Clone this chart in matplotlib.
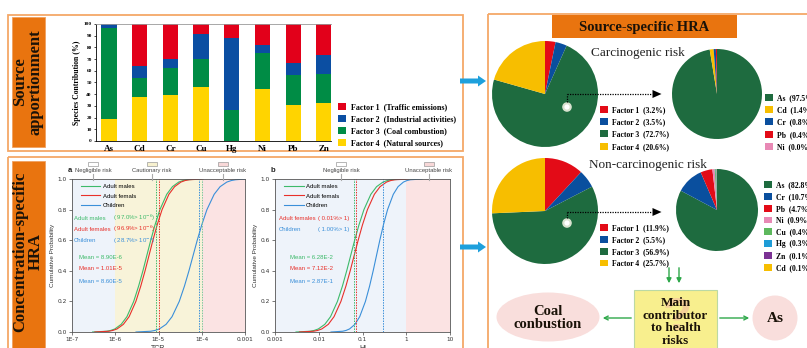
import numpy as np
import matplotlib
matplotlib.use('Agg')
import matplotlib.pyplot as plt
from matplotlib.patches import Rectangle, Ellipse, Circle, FancyArrow

# ---- source apportionment (PMF factor contributions, %) ----
elements = ['As', 'Cd', 'Cr', 'Cu', 'Hg', 'Ni', 'Pb', 'Zn']
f1_traffic = [0, 36, 30, 8.5, 12, 18, 33, 26.5]
f2_industrial = [3, 10, 7.5, 21, 61.5, 7, 11, 16.5]
f3_coal = [78, 16.5, 23.5, 24, 26.5, 30.5, 25.5, 24.5]
f4_natural = [19, 37.5, 39, 46.5, 0, 44.5, 30.5, 32.5]
factor_labels = ['Factor 1  (Traffic emissions)', 'Factor 2  (Industrial activities)',
                 'Factor 3  (Coal combustion)', 'Factor 4  (Natural sources)']

# ---- Monte Carlo cumulative distributions ----
cdf_prob = [0, 0.005, 0.01, 0.02, 0.05, 0.1, 0.2, 0.3, 0.4, 0.5,
            0.6, 0.7, 0.8, 0.9, 0.95, 0.98, 0.99, 0.995, 1.0]
tcr_males = [3.0e-7, 6.35e-7, 7.8e-7, 9.8e-7, 1.37e-6, 1.86e-6, 2.67e-6, 3.47e-6, 4.36e-6, 5.37e-6,
             6.62e-6, 8.30e-6, 1.08e-5, 1.55e-5, 2.10e-5, 2.94e-5, 3.69e-5, 4.54e-5, 9.5e-5]
tcr_females = [3.37e-7, 7.12e-7, 8.75e-7, 1.10e-6, 1.54e-6, 2.09e-6, 3.00e-6, 3.89e-6, 4.89e-6, 6.03e-6,
               7.43e-6, 9.31e-6, 1.21e-5, 1.74e-5, 2.36e-5, 3.30e-5, 4.14e-5, 5.09e-5, 1.07e-4]
tcr_children = [3.02e-6, 6.62e-6, 8.24e-6, 1.047e-5, 1.496e-5, 2.056e-5, 3.02e-5, 3.98e-5, 5.06e-5, 6.31e-5,
                7.87e-5, 1.0e-4, 1.318e-4, 1.936e-4, 2.661e-4, 3.80e-4, 4.83e-4, 6.01e-4, 1.0e-3]
hi_males = [0.00302, 0.00635, 0.00782, 0.00979, 0.01374, 0.01858, 0.02673, 0.03475, 0.04355, 0.0537,
            0.0662, 0.0830, 0.1079, 0.1552, 0.2099, 0.2944, 0.3690, 0.4539, 0.955]
hi_females = [0.00363, 0.00763, 0.00940, 0.01177, 0.01652, 0.02233, 0.03213, 0.04177, 0.05235, 0.0645,
              0.0796, 0.0998, 0.1297, 0.1866, 0.2523, 0.3539, 0.4436, 0.5456, 1.148]
hi_children = [0.01905, 0.03524, 0.04188, 0.05058, 0.06714, 0.08630, 0.1167, 0.1452, 0.1754, 0.2089,
               0.2489, 0.3006, 0.3741, 0.5058, 0.6501, 0.8630, 1.042, 1.239, 2.291]
tcr_means = [8.90e-6, 1.01e-5, 8.60e-5]
hi_means = [6.28e-2, 7.12e-2, 2.87e-1]

# ---- source-specific HRA ----
car_factor = [3.2, 3.5, 72.7, 20.6]
noncar_factor = [11.9, 5.5, 56.9, 25.7]
car_metals = ['As', 'Cd', 'Cr', 'Pb', 'Ni']
car_metal_share = [97.5, 1.4, 0.8, 0.4, 0.0]
noncar_metals = ['As', 'Cr', 'Pb', 'Ni', 'Cu', 'Hg', 'Zn', 'Cd']
noncar_metal_share = [82.8, 10.7, 4.7, 0.9, 0.4, 0.3, 0.1, 0.1]

W, H = 807, 348
SERIF = 'Liberation Serif'
SANS = 'Liberation Sans'
ORANGE = '#E9740F'
BORDER = '#F5A868'
RED, BLUE, GREEN, YELLOW = '#E2001A', '#0B4EA2', '#008C45', '#FFD400'
PRED, PBLUE, PGREEN, PYELLOW = '#E30B17', '#0A4F9E', '#1E6B3F', '#F7BE00'
metal_colors = {'As': PGREEN, 'Cd': PYELLOW, 'Cr': PBLUE, 'Pb': PRED, 'Ni': '#E889B5',
                'Cu': '#5DB85D', 'Hg': '#1E9CD7', 'Zn': '#7B3294'}
C_M, C_F, C_C = '#3DBA6A', '#E8302A', '#3A8FD9'


def px_box(x0, y0, x1, y1):
    return [x0 / W, 1 - y1 / H, (x1 - x0) / W, (y1 - y0) / H]


fig = plt.figure(figsize=(W / 100, H / 100), dpi=100)
bg = fig.add_axes([0, 0, 1, 1])
bg.set_xlim(0, W)
bg.set_ylim(H, 0)
bg.axis('off')
fg = fig.add_axes([0, 0, 1, 1])
fg.set_xlim(0, W)
fg.set_ylim(H, 0)
fg.axis('off')
fg.set_zorder(10)
fg.patch.set_alpha(0)

# panel frames and section labels
bg.add_patch(Rectangle((8, 15), 455, 136, fc='none', ec=BORDER, lw=1.3))
bg.add_patch(Rectangle((8, 157), 455, 200, fc='none', ec=BORDER, lw=1.3))
bg.add_patch(Rectangle((488, 14), 330, 345, fc='none', ec=BORDER, lw=1.3))
bg.add_patch(Rectangle((12, 17), 33, 130, fc=ORANGE, ec='#F0A060', lw=0.6))
bg.add_patch(Rectangle((12, 161), 33, 195, fc=ORANGE, ec='#F0A060', lw=0.6))
bg.text(28, 82, 'Source\napportionment', rotation=90, ha='center', va='center',
        family=SERIF, weight='bold', fontsize=12, linespacing=1.0, color='#1a1208')
bg.text(28, 252, 'Concentration-specific\nHRA', rotation=90, ha='center', va='center',
        family=SERIF, weight='bold', fontsize=12, linespacing=1.0, color='#1a1208')

# ---------------- stacked bar chart ----------------
ax = fig.add_axes(px_box(96, 24, 331, 141))
x = np.arange(len(elements))
bottom = np.zeros(len(elements))
bars = []
for vals, col in [(f4_natural, YELLOW), (f3_coal, GREEN), (f2_industrial, BLUE), (f1_traffic, RED)]:
    bars.append(ax.bar(x, vals, 0.5, bottom=bottom, color=col, lw=0))
    bottom += np.array(vals)
ax.set_xlim(-0.42, 7.23)
ax.set_ylim(0, 100)
ax.set_xticks(x)
ax.set_xticklabels(elements, family=SERIF, weight='bold', fontsize=6.5)
ax.set_yticks(range(0, 101, 10))
ax.set_yticklabels([str(v) for v in range(0, 101, 10)], family=SERIF, weight='bold', fontsize=3.8)
ax.tick_params(axis='x', length=0, pad=3)
ax.tick_params(axis='y', length=1.5, width=0.5, pad=1.5)
ax.set_ylabel('Species Contribution (%)', family=SERIF, weight='bold', fontsize=5.6, labelpad=2)
ax.spines['right'].set_visible(False)
ax.spines['top'].set_color('#999999')
for s in ['left', 'bottom', 'top']:
    ax.spines[s].set_linewidth(0.6)
ax.legend(bars[::-1], factor_labels, loc='upper left', bbox_to_anchor=(338, 103),
          bbox_transform=fg.transData, frameon=False, borderpad=0, borderaxespad=0,
          handlelength=1.0, handleheight=1.0, handletextpad=0.6, labelspacing=0.45,
          prop={'family': SERIF, 'weight': 'bold', 'size': 5.8})


# ---------------- cumulative probability curves ----------------
def style_cdf(ax, xlab, ticks, ticklabels):
    ax.set_xscale('log')
    ax.set_xlim(ticks[0], ticks[-1])
    ax.set_ylim(0, 1)
    ax.set_xticks(ticks)
    ax.set_xticklabels(ticklabels)
    ax.minorticks_off()
    ax.set_yticks([0, 0.2, 0.4, 0.6, 0.8, 1.0])
    ax.set_yticklabels(['0.0', '0.2', '0.4', '0.6', '0.8', '1.0'])
    ax.tick_params(labelsize=4.2, length=2, width=0.5, pad=1.5, colors='#444444', labelcolor='#333333')
    for s in ax.spines.values():
        s.set_linewidth(0.6)
        s.set_color('#555555')
    ax.set_ylabel('Cumulative Probability', family=SANS, fontsize=4.6, labelpad=2, color='#333333')
    ax.set_xlabel(xlab, family=SANS, fontsize=5, labelpad=2.5, color='#333333')


ax_a = fig.add_axes(px_box(72, 179, 245, 332))
ax_a.axvspan(1e-7, 1e-6, color='#EEF3FA', lw=0)
ax_a.axvspan(1e-6, 1e-4, color='#F8F3D9', lw=0)
ax_a.axvspan(1e-4, 1e-3, color='#FBE3E3', lw=0)
ax_a.plot(tcr_males, cdf_prob, color=C_M, lw=0.8, label='Adult males')
ax_a.plot(tcr_females, cdf_prob, color=C_F, lw=0.8, label='Adult femals')
ax_a.plot(tcr_children, cdf_prob, color=C_C, lw=0.8, label='Children')
for m, c in zip(tcr_means, [C_M, C_F, C_C]):
    ax_a.axvline(m, color=c, lw=0.7, ls=(0, (1.5, 1.2)))
ax_a.axvline(1e-4, color='#7CCB9A', lw=0.7, ls=(0, (1.5, 1.2)))
style_cdf(ax_a, 'TCR', [1e-7, 1e-6, 1e-5, 1e-4, 1e-3], ['1E-7', '1E-6', '1E-5', '1E-4', '0.001'])

ax_b = fig.add_axes(px_box(275, 179, 450, 332))
ax_b.axvspan(1e-3, 1, color='#EEF3FA', lw=0)
ax_b.axvspan(1, 10, color='#FBE3E3', lw=0)
ax_b.plot(hi_males, cdf_prob, color=C_M, lw=0.8, label='Adult males')
ax_b.plot(hi_females, cdf_prob, color=C_F, lw=0.8, label='Adult femals')
ax_b.plot(hi_children, cdf_prob, color=C_C, lw=0.8, label='Children')
for m, c in zip(hi_means, [C_M, C_F, C_C]):
    ax_b.axvline(m, color=c, lw=0.7, ls=(0, (1.5, 1.2)))
style_cdf(ax_b, 'HI', [1e-3, 1e-2, 1e-1, 1, 10], ['0.001', '0.01', '0.1', '1', '10'])

for a in (ax_a, ax_b):
    a.legend(loc='upper left', bbox_to_anchor=(0.04, 0.985), frameon=False, fontsize=4.3,
             handlelength=3.2, handletextpad=0.4, labelspacing=0.75, borderaxespad=0,
             prop={'family': SANS, 'size': 4.3})

tf = dict(family=SANS, fontsize=4.3, transform=ax_a.transAxes, va='center')
ax_a.text(0.012, 0.745, 'Adult males', color=C_M, **tf)
ax_a.text(0.237, 0.745, '( 97.0%> 10$^{-6}$)', color=C_M, **tf)
ax_a.text(0.012, 0.673, 'Adult females', color=C_F, **tf)
ax_a.text(0.237, 0.673, '( 96.9%> 10$^{-6}$)', color=C_F, **tf)
ax_a.text(0.012, 0.595, 'Children', color=C_C, **tf)
ax_a.text(0.237, 0.595, '( 28.7%> 10$^{-4}$)', color=C_C, **tf)
for yy, m, c in zip([0.49, 0.412, 0.333], ['8.90E-6', '1.01E-5', '8.60E-5'], [C_M, C_F, C_C]):
    ax_a.text(0.162, yy, 'Mean = ' + m, color=c, ha='center', **tf)

tf['transform'] = ax_b.transAxes
ax_b.text(0.023, 0.739, 'Adult females', color=C_F, **tf)
ax_b.text(0.246, 0.739, '( 0.01%> 1)', color=C_F, **tf)
ax_b.text(0.023, 0.667, 'Children', color=C_C, **tf)
ax_b.text(0.246, 0.667, '( 1.00%> 1)', color=C_C, **tf)
for yy, m, c in zip([0.49, 0.412, 0.333], ['6.28E-2', '7.12E-2', '2.87E-1'], [C_M, C_F, C_C]):
    ax_b.text(0.211, yy, 'Mean = ' + m, color=c, ha='center', **tf)

# risk level markers above the curves
risk_marks = [(93, 'Negligible risk', 'white'), (152, 'Cautionary risk', '#F7F1CF'),
              (223, 'Unacceptable risk', '#F8D8D8'), (341, 'Negligible risk', 'white'),
              (429, 'Unacceptable risk', '#F8D8D8')]
for xc, lab, col in risk_marks:
    fg.add_patch(Rectangle((xc - 5, 161.5), 10, 4, fc=col, ec='#9a9a9a', lw=0.5))
    fg.text(xc, 170.5, lab, ha='center', va='center', family=SANS, fontsize=4.2, color='#444444')
    fg.plot([xc, xc], [173.5, 180], color='#aaaaaa', lw=0.8)
fg.text(70, 170.5, 'a', family=SANS, weight='bold', fontsize=5.5, ha='center', va='center', color='#222222')
fg.text(273, 170.5, 'b', family=SANS, weight='bold', fontsize=5.5, ha='center', va='center', color='#222222')

# blue flow arrows between panels
for yy in (81, 247):
    fg.add_patch(FancyArrow(460, yy, 18, 0, width=5, head_width=11, head_length=8,
                            length_includes_head=False, color='#1EA0DC', lw=0))

# ---------------- source-specific HRA ----------------
bg.add_patch(Rectangle((552, 15), 185, 23, fc=ORANGE, ec='none'))
bg.text(644.5, 27, 'Source-specific HRA', ha='center', va='center', family=SERIF,
        weight='bold', fontsize=10.5, color='#1a1208')
fg.text(638, 53, 'Carcinogenic risk', ha='center', va='center', family=SERIF, fontsize=9.5, color='#222222')
fg.text(648, 165, 'Non-carcinogenic risk', ha='center', va='center', family=SERIF, fontsize=9.5,
        color='#222222')


def draw_pie(cx, cy, r, vals, colors):
    pa = fig.add_axes(px_box(cx - r * 1.05, cy - r * 1.05, cx + r * 1.05, cy + r * 1.05))
    wedges, _ = pa.pie(vals, colors=colors, startangle=90, counterclock=False,
                       wedgeprops={'linewidth': 0})
    pa.set_xlim(-1.05, 1.05)
    pa.set_ylim(-1.05, 1.05)
    pa.axis('off')
    return pa, wedges


leg_kw = dict(loc='upper left', bbox_transform=fg.transData, frameon=False, borderpad=0,
              borderaxespad=0, handlelength=1.0, handleheight=1.0, handletextpad=0.6,
              prop={'family': SERIF, 'weight': 'bold', 'size': 5.5})
fcols = [PRED, PBLUE, PGREEN, PYELLOW]

p1, w1 = draw_pie(545, 94, 53, car_factor, fcols)
p1.legend(w1, [f'Factor {i + 1}  ({v}%)' for i, v in enumerate(car_factor)],
          bbox_to_anchor=(600, 106), labelspacing=0.55, **leg_kw)
p2, w2 = draw_pie(717, 94, 45, car_metal_share, [metal_colors[m] for m in car_metals])
p2.legend(w2, [f'{m}  ({v}%)' for m, v in zip(car_metals, car_metal_share)],
          bbox_to_anchor=(765, 94), labelspacing=0.55, **leg_kw)
p3, w3 = draw_pie(545, 211, 53, noncar_factor, fcols)
p3.legend(w3, [f'Factor {i + 1}  ({v}%)' for i, v in enumerate(noncar_factor)],
          bbox_to_anchor=(600, 224), labelspacing=0.5, **leg_kw)
p4, w4 = draw_pie(717, 210, 41, noncar_metal_share, [metal_colors[m] for m in noncar_metals])
p4.legend(w4, [f'{m}  ({v}%)' for m, v in zip(noncar_metals, noncar_metal_share)],
          bbox_to_anchor=(764, 181), labelspacing=0.5, **leg_kw)

# dotted links from factor 3 to the metal breakdown
for cy, ly in ((107, 94), (223, 212)):
    fg.add_patch(Circle((567, cy), 4.8, fc='#d8e2cf', ec='none'))
    fg.add_patch(Circle((567, cy), 2.6, fc='white', ec='none'))
    fg.plot([567, 567], [cy - 5, ly], color='black', lw=0.9, ls=(0, (1, 1)))
    fg.plot([567, 652], [ly, ly], color='black', lw=0.9, ls=(0, (1, 1)))
    fg.add_patch(FancyArrow(652, ly, 0.5, 0, width=0, head_width=8, head_length=9,
                            color='black', lw=0))

# main contributor summary
GR = '#2EA84A'
for xx in (669, 679):
    fg.annotate('', xy=(xx, 286), xytext=(xx, 265),
                arrowprops=dict(arrowstyle='-|>', color=GR, lw=1.0, mutation_scale=7))
bg.add_patch(Rectangle((634, 290), 83, 70, fc='#F8EF8E', ec='#BBD9A4', lw=0.8))
bg.text(677, 318, '?', ha='center', va='center', family=SANS, weight='bold', fontsize=34,
        color='#F3C49E', alpha=0.7)
fg.text(675.5, 322, 'Main\ncontributor\nto health\nrisks', ha='center', va='center', family=SERIF,
        weight='bold', fontsize=9.5, linespacing=1.1, color='#1a1208')
bg.add_patch(Ellipse((548, 317), 103, 49, fc='#F9DEDC', ec='none'))
fg.text(548, 318, 'Coal\nconbustion', ha='center', va='center', family=SERIF, weight='bold',
        fontsize=10.5, linespacing=1.05, color='#1a1208')
bg.add_patch(Circle((775, 318), 22.5, fc='#F9DEDC', ec='none'))
fg.text(775, 318, 'As', ha='center', va='center', family=SERIF, weight='bold', fontsize=11,
        color='#1a1208')
fg.annotate('', xy=(600, 318), xytext=(634, 318),
            arrowprops=dict(arrowstyle='->', color=GR, lw=1.0, mutation_scale=7))
fg.annotate('', xy=(752, 318), xytext=(717, 318),
            arrowprops=dict(arrowstyle='->', color=GR, lw=1.0, mutation_scale=7))

fig.savefig('out.png', dpi=100)
